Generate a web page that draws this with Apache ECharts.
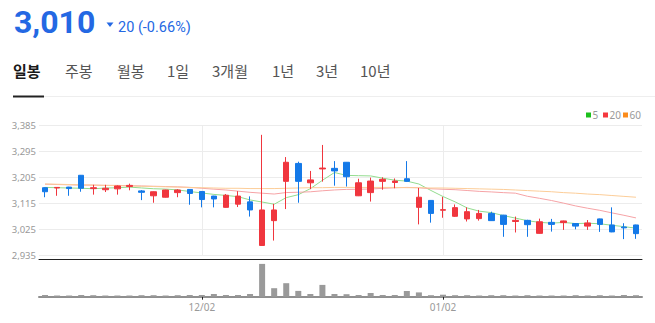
<!DOCTYPE html>
<html><head><meta charset="utf-8">
<script src="https://cdn.jsdelivr.net/npm/echarts@6/dist/echarts.min.js"></script>
<style>html,body{margin:0;padding:0;background:#fff}#c{width:655px;height:323px}</style>
</head><body><div id="c"></div>
<script>
// ---- data ----
const dates = ['11/13','11/14','11/15','11/18','11/19','11/20','11/21','11/22','11/25','11/26','11/27','11/28','11/29',
  '12/02','12/03','12/04','12/05','12/06','12/09','12/10','12/11','12/12','12/13','12/16','12/17','12/18','12/19','12/20','12/23','12/24','12/26','12/27','12/30',
  '01/02','01/03','01/06','01/07','01/08','01/09','01/10','01/13','01/14','01/15','01/16','01/17','01/20','01/21','01/22','01/23','01/24'];
const opens  = [3169,3168,3171,3212,3166,3162,3165,3173,3158,3141, 3136,3152,3163,3156,3140,3101,3112,3120,2969,3055,
                3191,3253,3186,3234,3236,3257,3141,3152,3191,3187, 3200,3101,3125,3091,3070,3061,3062,3080,3074,3052,
                3056,3011,3049,3048,3045,3036,3061,3040,3033,3040];
const closes = [3155,3170,3166,3167,3169,3167,3175,3177,3153,3155, 3161,3161,3149,3128,3130,3143,3140,3092,3092,3092,
                3257,3191,3196,3237,3227,3207,3186,3192,3198,3192, 3191,3136,3080,3093,3100,3086,3080,3055,3042,3056,
                3041,3051,3042,3054,3036,3047,3042,3016,3030,3010];
const highs  = [3171,3171,3172,3213,3179,3179,3177,3183,3161,3156, 3162,3164,3164,3157,3141,3147,3157,3139,3352,3113,
                3275,3259,3227,3317,3261,3258,3200,3204,3205,3201, 3261,3168,3126,3137,3111,3101,3092,3086,3075,3069,
                3058,3062,3061,3055,3046,3057,3062,3101,3046,3041];
const lows   = [3136,3141,3141,3155,3145,3154,3145,3160,3126,3117, 3135,3136,3110,3101,3101,3100,3102,3069,2968,2986,
                3095,3117,3164,3190,3176,3173,3140,3121,3162,3167, 3189,3042,3048,3065,3068,3052,3055,3054,2999,3014,
                2999,3010,3017,3023,3025,3023,3016,3015,2991,2992];
const volumes = [17,12,12,17,15,12,12,12,15,15, 12,15,17,17,27,17,17,27,328,85,
                 135,58,27,118,27,25,17,37,17,17, 57,43,15,20,15,15,12,15,15,12,
                 15,12,12,12,15,12,15,12,17,15];
const ma5  = [3170,3169,3168,3167,3165.4,3167.8,3168.8,3171,3168.2,3165.4, 3164.2,3161.4,3155.8,3150.8,3145.8,3142.2,3138,3126.6,3119.4,3111.8,
              3134.6,3144.8,3165.6,3194.6,3221.6,3211.6,3210.6,3209.8,3202,3195, 3191.8,3181.8,3159.4,3138.4,3120,3099,3087.8,3082.8,3072.6,3063.8,
              3054.8,3049,3046.4,3048.8,3044.8,3046,3044.2,3039,3034.2,3029];
const ma20 = [3181,3180,3179,3178,3178,3177,3177,3176,3175,3174, 3173,3172,3170,3167,3164,3161,3157,3153,3150,3147.1,
              3152.2,3153.3,3154.8,3158.3,3161.2,3163.2,3163.7,3164.5,3166.7,3168.6, 3170,3168.8,3165.4,3163.6,3162.1,3159.3,3156.3,3154.4,3151.9,3150.1,
              3139.3,3132.3,3124.6,3115.5,3105.9,3097.9,3090.7,3081.9,3073.5,3064.4];
const ma60 = [3182,3181,3180,3179,3178,3177,3176,3175,3174,3173, 3172,3171,3170,3169,3168,3167,3167,3166,3166,3166,
              3167,3168,3169,3169,3170,3170,3170,3170,3170,3170, 3169,3169,3168,3168,3167,3166,3165,3164,3163,3161,
              3159,3157,3155,3152,3150,3147,3145,3142,3139,3136];
const yMin = 2935, yMax = 3385, yStep = 90;
const monthLabels = ['12/02','01/02'];
const maNames = ['5','20','60'];
const headerPrice = '3,010';
const headerChange = '20 (-0.66%)';
const tabs = ['일봉','주봉','월봉','1일','3개월','1년','3년','10년'];

// ---- chart ----
const UP = '#f0363e', DOWN = '#1479e8';
const maLine = ['#93dc8f','#f6a3a6','#fccd98'];
const maKey = ['#1cc01c','#f5383e','#fb8c1c'];
const isMonth = (i, v) => monthLabels.includes(v);
const chart = echarts.init(document.getElementById('c'), null, {renderer: 'svg'});
const candle = opens.map((o, i) => [o, closes[i], lows[i], highs[i]]);
const tabX = [13, 65, 117, 167, 212, 272, 316, 360];

const graphic = [
  {type:'text', x:14, y:22, style:{text:headerPrice, fill:'#2468e3', font:'bold 32px Roboto', textAlign:'left', textVerticalAlign:'middle'}},
  {type:'polygon', shape:{points:[[106.5,22.5],[113.5,22.5],[110,27]]}, style:{fill:'#2468e3'}},
  {type:'text', x:118, y:27.5, style:{text:headerChange, fill:'#2468e3', font:'14.5px Roboto', textAlign:'left', textVerticalAlign:'middle'}},
  {type:'line', shape:{x1:13, y1:96.5, x2:655, y2:96.5}, style:{stroke:'#eeeeee', lineWidth:1}},
  {type:'line', shape:{x1:13, y1:96.5, x2:44, y2:96.5}, style:{stroke:'#222', lineWidth:2}}
];
tabs.forEach((t, i) => graphic.push({type:'text', x:tabX[i], y:70.5,
  style:{text:t, fill: i === 0 ? '#1a1a1a' : '#555', font:(i === 0 ? 'bold ' : '') + '15px "Noto Sans CJK KR"', textAlign:'left', textVerticalAlign:'middle'}}));
// legend keys
const legX = [586, 603, 623];
maNames.forEach((n, i) => {
  graphic.push({type:'rect', shape:{x:legX[i], y:112.5, width:5, height:5}, style:{fill:maKey[i]}});
  graphic.push({type:'text', x:legX[i] + 6.5, y:115, style:{text:n, fill:'#999', font:'10px "Noto Sans"', textAlign:'left', textVerticalAlign:'middle'}});
});

const option = {
  animation: false,
  textStyle: {fontFamily: 'Noto Sans'},
  graphic: graphic,
  grid: [
    {left:39, right:13, top:125.3, bottom:67.7},
    {left:39, right:13, top:259.3, bottom:26.3}
  ],
  xAxis: [
    {type:'category', data:dates, gridIndex:0, boundaryGap:true,
     axisLine:{show:false}, axisTick:{show:false}, axisLabel:{show:false}, splitLine:{show:false}},
    {type:'category', data:dates, gridIndex:1, position:'bottom', boundaryGap:true,
     axisLine:{lineStyle:{color:'#8f8f8f', width:2}},
     axisTick:{show:true, interval:isMonth, alignWithLabel:true, length:3, lineStyle:{color:'#222'}},
     axisLabel:{interval:isMonth, color:'#999', fontSize:10, margin:5}},
    {type:'category', data:dates, gridIndex:1, position:'top', boundaryGap:true,
     axisLine:{lineStyle:{color:'#222', width:1}}, axisTick:{show:false}, axisLabel:{show:false}}
  ],
  yAxis: [
    {type:'value', gridIndex:0, min:yMin, max:yMax, interval:yStep,
     axisLine:{show:false}, axisTick:{show:false},
     axisLabel:{color:'#999', fontSize:9.5, margin:3, formatter:v => v.toLocaleString('en-US')},
     splitLine:{lineStyle:{color:'#ececec'}}},
    {type:'value', gridIndex:1, min:0, max:374, show:false, splitLine:{show:false}}
  ],
  series: [
    {name:maNames[0], type:'line', data:ma5, xAxisIndex:0, yAxisIndex:0, symbol:'none', z:1,
     itemStyle:{color:maKey[0]}, lineStyle:{color:maLine[0], width:1}},
    {name:maNames[1], type:'line', data:ma20, xAxisIndex:0, yAxisIndex:0, symbol:'none', z:1,
     itemStyle:{color:maKey[1]}, lineStyle:{color:maLine[1], width:1}},
    {name:maNames[2], type:'line', data:ma60, xAxisIndex:0, yAxisIndex:0, symbol:'none', z:1,
     itemStyle:{color:maKey[2]}, lineStyle:{color:maLine[2], width:1}},
    {name:'price', type:'candlestick', data:candle, xAxisIndex:0, yAxisIndex:0, barWidth:6, z:3,
     itemStyle:{color:UP, color0:DOWN, borderColor:UP, borderColor0:DOWN, borderWidth:1},
     markLine:{silent:true, symbol:'none', label:{show:false}, z:0,
       lineStyle:{color:'#ececec', type:'solid', width:1},
       data: monthLabels.map(m => ({xAxis:m}))}},
    {name:'volume', type:'bar', data:volumes, xAxisIndex:1, yAxisIndex:1, barWidth:6,
     itemStyle:{color:'#9a9a9a'}}
  ]
};
chart.setOption(option);
</script>
</body></html>
